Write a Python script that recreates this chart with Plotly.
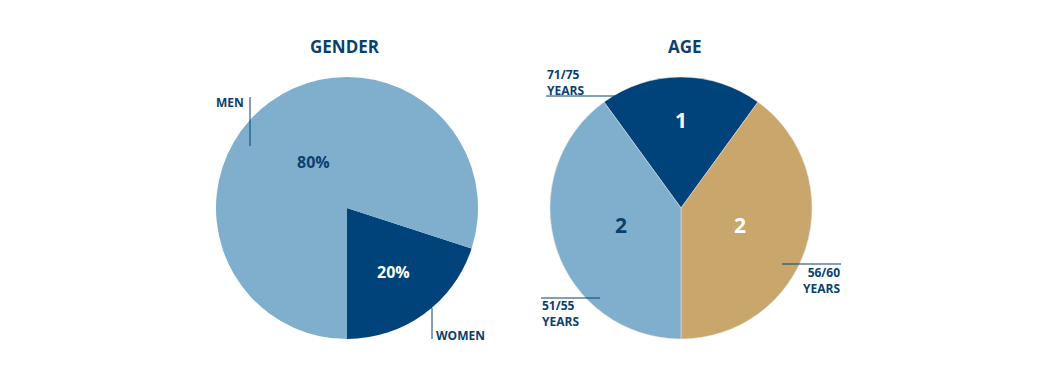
import math
import plotly.graph_objects as go

# ---- data ----
gender_labels = ["WOMEN", "MEN"]
gender_values = [20, 80]
gender_text = ["20%", "80%"]

age_labels = ["71/75 YEARS", "56/60 YEARS", "51/55 YEARS"]
age_values = [1, 2, 2]
age_text = ["1", "2", "2"]

# ---- style ----
W, H = 1043, 366
OFF = 8  # page body margin
DARK = "#00427a"
LIGHT = "#80afcd"
TAN = "#c9a66b"
TXT = "#0b3f6e"
FONT = "Open Sans"

def px(x):
    return (x - OFF) / W

def py(y):
    return 1 - (y - OFF) / H

R = 131
g_c = (347, 208)
a_c = (681, 208)

fig = go.Figure()

def dom(c):
    return dict(x=[px(c[0] - R), px(c[0] + R)], y=[py(c[1] + R), py(c[1] - R)])

fig.add_trace(go.Pie(
    labels=gender_labels, values=gender_values, sort=False, direction="clockwise",
    rotation=108, domain=dom(g_c), textinfo="none", hoverinfo="label+percent",
    marker=dict(colors=[DARK, LIGHT], line=dict(color="white", width=0)),
    showlegend=False,
))
fig.add_trace(go.Pie(
    labels=age_labels, values=age_values, sort=False, direction="clockwise",
    rotation=-36, domain=dom(a_c), textinfo="none", hoverinfo="label+value",
    marker=dict(colors=[DARK, TAN, LIGHT], line=dict(color="#e8e4dc", width=0.5)),
    showlegend=False,
))

annotations = []

def ann(x, y, t, size, col, xanchor="center", align="center"):
    annotations.append(dict(x=px(x), y=py(y), xref="paper", yref="paper",
                            text="<b>%s</b>" % t, showarrow=False,
                            xanchor=xanchor, yanchor="middle", align=align,
                            font=dict(family=FONT, size=size, color=col)))

def slice_labels(center, values, rotation, texts, fracs, colors, size, dy=0):
    total = sum(values)
    start = rotation
    for v, t, f, col in zip(values, texts, fracs, colors):
        span = 360 * v / total
        mid = math.radians(start + span / 2)
        x = center[0] + f * R * math.sin(mid)
        y = center[1] - f * R * math.cos(mid) + dy
        ann(x, y, t, size, col)
        start += span

slice_labels(g_c, gender_values, 108, gender_text, [0.6, 0.43], ["white", TXT], 16)
slice_labels(a_c, age_values, -36, age_text, [0.66, 0.47, 0.48], ["white", "white", TXT], 21, dy=-2)

ann(345, 46, "GENDER", 17, TXT)
ann(685, 46, "AGE", 17, TXT)

ann(246, 103, "MEN", 12, TXT, "right", "right")
ann(434, 335, "WOMEN", 12, TXT, "left", "left")
ann(545, 82, "71/75<br>YEARS", 12, TXT, "left", "left")
ann(842, 280, "56/60<br>YEARS", 12, TXT, "right", "right")
ann(540, 313, "51/55<br>YEARS", 12, TXT, "left", "left")

shapes = []

def line(x0, y0, x1, y1):
    shapes.append(dict(type="line", xref="paper", yref="paper",
                       x0=px(x0), y0=py(y0), x1=px(x1), y1=py(y1),
                       line=dict(color=TXT, width=1)))

line(250, 97, 250, 146)
line(432, 308, 432, 339)
line(546, 96, 615, 96)
line(782, 264, 841, 264)
line(541, 298, 600, 298)

fig.update_layout(
    width=W, height=H, margin=dict(l=0, r=0, t=0, b=0),
    paper_bgcolor="white", plot_bgcolor="white",
    annotations=annotations, shapes=shapes,
)

fig.write_html("out.html")
